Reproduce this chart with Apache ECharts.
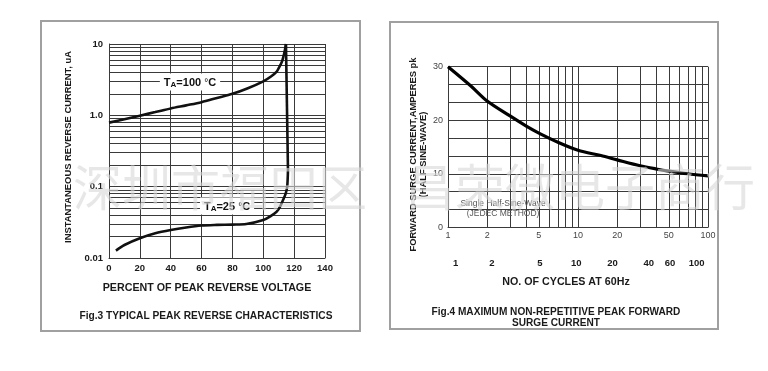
<!DOCTYPE html>
<html><head><meta charset="utf-8">
<script src="https://cdn.jsdelivr.net/npm/echarts@6/dist/echarts.min.js"></script>
<style>html,body{margin:0;padding:0;background:#fff}#c{width:768px;height:371px}</style>
</head><body><div id="c"></div>
<script>
// ---- Fig.3 data ----
const fig3Ta100X = [0, 10, 20, 30, 40, 50, 60, 70, 80, 90, 100, 105, 108.7, 110, 112, 113, 114, 114.7];
const fig3Ta100Y = [0.79, 0.88, 0.99, 1.11, 1.25, 1.38, 1.53, 1.75, 2.0, 2.4, 3.0, 3.5, 4.1, 4.6, 5.6, 6.6, 8.2, 10];
const fig3Ta25X = [4.5, 10, 20, 30, 40, 50, 60, 70, 80, 89, 100, 105, 108.7, 111, 112.8, 114.5, 115.5, 116];
const fig3Ta25Y = [0.0127, 0.0152, 0.0189, 0.0222, 0.0247, 0.0268, 0.0285, 0.0291, 0.0294, 0.030, 0.0341, 0.039, 0.0446, 0.053, 0.065, 0.08, 0.1, 0.171];
const fig3YTickValues = [0.01, 0.1, 1, 10];
const fig3YTickLabels = ['0.01', '0.1', '1.0', '10'];
const fig3YMinorLines = [0.02,0.03,0.04,0.05,0.06,0.07,0.08,0.09,0.2,0.3,0.4,0.5,0.6,0.7,0.8,0.9,2,3,4,5,6,7,8,9];
const fig3Label100 = [52.5, 2.93];
const fig3Label25 = [76.5, 0.0536];

// ---- Fig.4 data ----
const fig4X = [1, 1.5, 2, 3, 4, 5, 7, 10, 15, 20, 30, 40, 50, 70, 100];
const fig4Y = [30, 26.4, 23.6, 20.8, 18.9, 17.6, 15.9, 14.4, 13.4, 12.6, 11.5, 10.9, 10.5, 10.0, 9.6];
const fig4XLabels = [1, 2, 5, 10, 20, 50, 100];
const fig4CycleLabels = [1, 2, 5, 10, 20, 40, 60, 100];
const fig4XMinorLines = [2,3,4,5,6,7,8,9,20,30,40,50,60,70,80,90];
const fig4NotePos = [2.65, 3.4];

const FF = '"Liberation Sans", Arial, sans-serif';
const lineC = '#3a3a3a';
const zip = (a, b) => a.map((v, i) => [v, b[i]]);

const chart = echarts.init(document.getElementById('c'), null, {renderer: 'canvas'});
const boldTxt = {fontFamily: FF, fontWeight: 'bold', color: '#1a1a1a'};
const richTA = {
  t: {fontFamily: FF, fontWeight: 'bold', fontSize: 11, color: '#111', lineHeight: 13, verticalAlign: 'bottom'},
  s: {fontFamily: FF, fontWeight: 'bold', fontSize: 8, color: '#111', lineHeight: 13, verticalAlign: 'bottom'},
  d: {fontFamily: FF, fontSize: 10, color: '#111', lineHeight: 13, verticalAlign: 'bottom'}
};

const option = {
  animation: false,
  backgroundColor: '#fff',
  title: [
    {text: 'Fig.3 TYPICAL PEAK REVERSE CHARACTERISTICS', left: 206, top: 310, textAlign: 'center', padding: 0,
     textStyle: Object.assign({fontSize: 10.2, lineHeight: 12}, boldTxt)},
    {text: 'Fig.4 MAXIMUM NON-REPETITIVE PEAK FORWARD\nSURGE CURRENT', left: 556, top: 307, textAlign: 'center', padding: 0,
     textStyle: Object.assign({fontSize: 10.1, lineHeight: 10.6}, boldTxt)}
  ],
  grid: [
    {left: 109, top: 44, width: 216, height: 214},
    {left: 448, top: 66.7, width: 260, height: 160.6},
    {left: 455.7, top: 200, width: 241, height: 55}
  ],
  xAxis: [
    {gridIndex: 0, type: 'value', min: 0, max: 140, interval: 20,
     axisLine: {show: true, lineStyle: {color: lineC, width: 1}}, axisTick: {show: false},
     splitLine: {show: true, lineStyle: {color: lineC, width: 1}},
     axisLabel: Object.assign({fontSize: 9.5, margin: 5}, boldTxt),
     name: 'PERCENT OF PEAK REVERSE VOLTAGE', nameLocation: 'middle', nameGap: 25,
     nameTextStyle: Object.assign({fontSize: 10.7, padding: [0, 20, 0, 0]}, boldTxt)},
    {gridIndex: 1, type: 'log', logBase: 10, min: 1, max: 100,
     axisLine: {show: true, lineStyle: {color: lineC, width: 1}}, axisTick: {show: false},
     splitLine: {show: true, lineStyle: {color: lineC, width: 1}},
     axisLabel: {customValues: fig4XLabels, fontFamily: FF, fontSize: 9, color: '#444', margin: 4,
                 formatter: v => String(Math.round(v))},
     name: 'NO. OF CYCLES AT 60Hz', nameLocation: 'middle', nameGap: 49,
     nameTextStyle: Object.assign({fontSize: 10.7, padding: [0, 24, 0, 0]}, boldTxt)},
    {gridIndex: 2, type: 'log', logBase: 10, min: 1, max: 100,
     axisLine: {show: false}, axisTick: {show: false}, splitLine: {show: false},
     axisLabel: Object.assign({customValues: fig4CycleLabels, fontSize: 9.5, margin: 3,
                 formatter: v => String(Math.round(v))}, boldTxt)}
  ],
  yAxis: [
    {gridIndex: 0, type: 'log', logBase: 10, min: 0.01, max: 10,
     axisLine: {show: true, lineStyle: {color: lineC, width: 1}}, axisTick: {show: false},
     splitLine: {show: true, lineStyle: {color: lineC, width: 1}},
     axisLabel: Object.assign({fontSize: 9.5, margin: 6, formatter: v => {
        let best = 0;
        fig3YTickValues.forEach((t, i) => { if (Math.abs(Math.log10(t) - Math.log10(v)) < Math.abs(Math.log10(fig3YTickValues[best]) - Math.log10(v))) best = i; });
        return fig3YTickLabels[best];
     }}, boldTxt),
     name: 'INSTANTANEOUS REVERSE CURRENT, uA', nameLocation: 'middle', nameRotate: 90, nameGap: 36,
     nameTextStyle: Object.assign({fontSize: 9.4, padding: [0, 0, 0, 8]}, boldTxt)},
    {gridIndex: 1, type: 'value', min: 0, max: 30, interval: 10,
     axisLine: {show: true, lineStyle: {color: lineC, width: 1}}, axisTick: {show: false},
     splitLine: {show: true, lineStyle: {color: lineC, width: 1}},
     minorTick: {show: false, splitNumber: 3},
     minorSplitLine: {show: true, lineStyle: {color: lineC, width: 1}},
     axisLabel: {fontFamily: FF, fontSize: 9, color: '#444', margin: 5},
     name: 'FORWARD SURGE CURRENT,AMPERES pk\n(HALF SINE-WAVE)', nameLocation: 'middle', nameRotate: 90, nameGap: 20,
     nameTextStyle: Object.assign({fontSize: 9.4, lineHeight: 10, padding: [0, 15, 0, 0]}, boldTxt)},
    {gridIndex: 2, type: 'value', show: false}
  ],
  series: [
    {type: 'line', xAxisIndex: 0, yAxisIndex: 0, data: [], z: 1,
     markLine: {silent: true, symbol: 'none', animation: false, label: {show: false},
                lineStyle: {color: lineC, width: 1, type: 'solid'},
                data: fig3YMinorLines.map(v => ({yAxis: v}))}},
    {type: 'line', name: 'TA=100', xAxisIndex: 0, yAxisIndex: 0, data: zip(fig3Ta100X, fig3Ta100Y),
     smooth: 0.3, symbol: 'none', z: 5, lineStyle: {color: '#111', width: 2.6},
     markPoint: {symbol: 'circle', symbolSize: 1, itemStyle: {color: 'rgba(0,0,0,0)'}, silent: true,
       data: [{coord: fig3Label100, label: {show: true, position: 'inside', backgroundColor: '#fff', padding: [2, 4],
         formatter: '{t|T}{s|A}{t|=100 }{d|°}{t|C}', rich: richTA}}]}},
    {type: 'line', name: 'drop', xAxisIndex: 0, yAxisIndex: 0,
     data: [[fig3Ta100X[fig3Ta100X.length - 1], fig3Ta100Y[fig3Ta100Y.length - 1]], [fig3Ta25X[fig3Ta25X.length - 1], fig3Ta25Y[fig3Ta25Y.length - 1]]],
     symbol: 'none', z: 5, lineStyle: {color: '#111', width: 2.6}},
    {type: 'line', name: 'TA=25', xAxisIndex: 0, yAxisIndex: 0, data: zip(fig3Ta25X, fig3Ta25Y),
     smooth: 0.3, symbol: 'none', z: 5, lineStyle: {color: '#111', width: 2.6},
     markPoint: {symbol: 'circle', symbolSize: 1, itemStyle: {color: 'rgba(0,0,0,0)'}, silent: true,
       data: [{coord: fig3Label25, label: {show: true, position: 'inside', backgroundColor: '#fff', padding: [2, 4],
         formatter: '{t|T}{s|A}{t|=25 }{d|°}{t|C}', rich: richTA}}]}},
    {type: 'line', xAxisIndex: 1, yAxisIndex: 1, data: [], z: 1,
     markLine: {silent: true, symbol: 'none', animation: false, label: {show: false},
                lineStyle: {color: lineC, width: 1, type: 'solid'},
                data: fig4XMinorLines.map(v => ({xAxis: v}))}},
    {type: 'line', name: 'surge', xAxisIndex: 1, yAxisIndex: 1, data: zip(fig4X, fig4Y),
     smooth: 0.3, symbol: 'none', z: 5, lineStyle: {color: '#000', width: 3.2},
     markPoint: {symbol: 'circle', symbolSize: 1, itemStyle: {color: 'rgba(0,0,0,0)'}, silent: true,
       data: [{coord: fig4NotePos, label: {show: true, position: 'inside',
         formatter: 'Single Half-Sine-Wave\n(JEDEC METHOD)', fontFamily: FF, fontSize: 8.5, color: '#555', lineHeight: 10}}]}}
  ],
  graphic: [
    {type: 'rect', shape: {x: 41, y: 21, width: 319, height: 310}, style: {fill: 'none', stroke: '#a0a0a0', lineWidth: 2}, z: 50},
    {type: 'rect', shape: {x: 390, y: 22, width: 328, height: 307}, style: {fill: 'none', stroke: '#a0a0a0', lineWidth: 2}, z: 50},
    {type: 'text', x: 73, y: 187, z: 100, silent: true,
     style: {text: '深圳市福田区', fontSize: 49, fontFamily: '"Noto Sans CJK SC"', fill: 'rgba(215,215,215,0.6)', verticalAlign: 'middle'}},
    {type: 'text', x: 405, y: 187, z: 100, silent: true,
     style: {text: '昌荣微电子商行', fontSize: 50, fontFamily: '"Noto Sans CJK SC"', fill: 'rgba(215,215,215,0.6)', verticalAlign: 'middle'}}
  ]
};
chart.setOption(option);
</script></body></html>
